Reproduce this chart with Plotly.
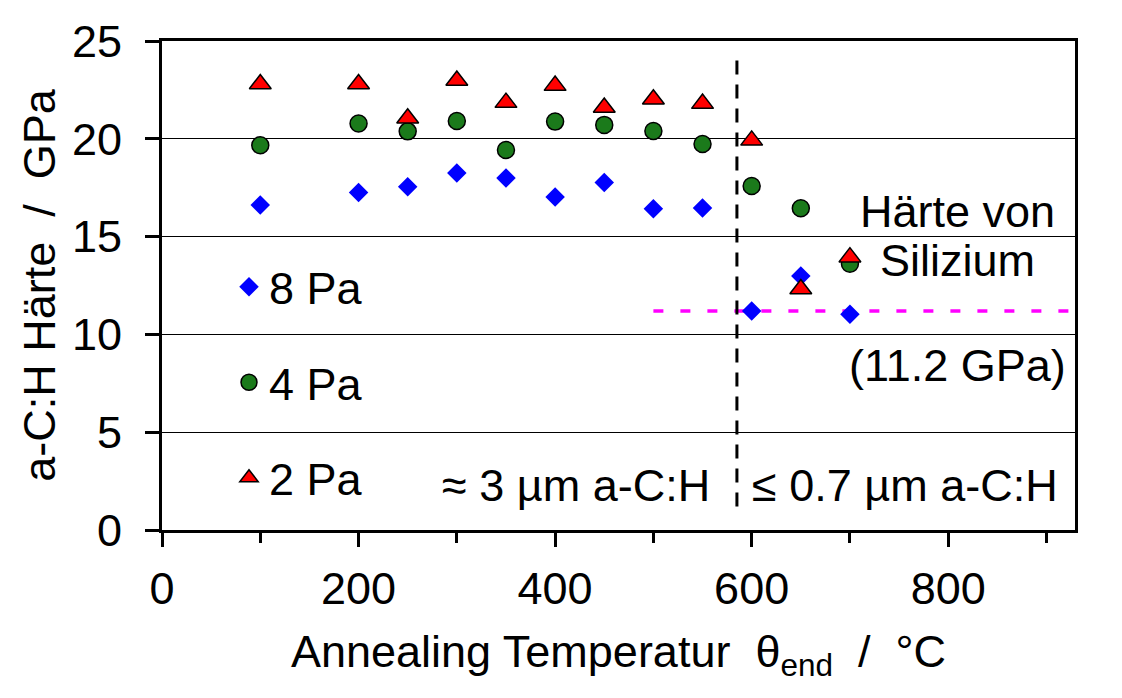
import plotly.graph_objects as go

# ---- data ----
temp_8pa = [100, 200, 250, 300, 350, 400, 450, 500, 550, 600, 650, 700]
hard_8pa = [16.62, 17.25, 17.55, 18.25, 18.0, 17.02, 17.77, 16.43, 16.46, 11.2, 12.99, 11.03]

temp_4pa = [100, 200, 250, 300, 350, 400, 450, 500, 550, 600, 650, 700]
hard_4pa = [19.67, 20.78, 20.38, 20.91, 19.43, 20.88, 20.71, 20.40, 19.73, 17.59, 16.45, 13.61]

temp_2pa = [100, 200, 250, 300, 350, 400, 450, 500, 550, 600, 650, 700]
hard_2pa = [22.8, 22.8, 21.05, 22.98, 21.85, 22.72, 21.6, 22.02, 21.8, 19.92, 12.32, 13.95]

SI_HARDNESS = 11.2          # GPa, hardness of silicon
SI_LINE_X = [500, 937]      # extent of the silicon reference line
THICKNESS_BOUNDARY = 585    # °C, boundary between thick / thin layers
BOUNDARY_Y = [1.2, 24.2]

X_MAX = 929
Y_MAX = 25
x_tick_vals = [0, 200, 400, 600, 800]
x_tick_text = ["0", "200", "400", "600", "800"]
y_tick_vals = [0, 5, 10, 15, 20, 25]
y_tick_text = ["0", "5", "10", "15", "20", "25"]

FONT = "Arial, Liberation Sans, sans-serif"
FS = 45

fig = go.Figure()

fig.add_trace(go.Scatter(
    x=temp_8pa, y=hard_8pa, mode="markers", name="8 Pa", legendgroup="g8",
    marker=dict(symbol="diamond", size=15, color="#0000FF", line=dict(width=0)),
))
fig.add_trace(go.Scatter(
    x=temp_4pa, y=hard_4pa, mode="markers", name="4 Pa", legendgroup="g4",
    marker=dict(symbol="circle", size=17, color="#1b7a1b", line=dict(width=1.5, color="black")),
))
fig.add_trace(go.Scatter(
    x=temp_2pa, y=hard_2pa, mode="markers", name="2 Pa", legendgroup="g2",
    marker=dict(symbol="triangle-up", size=19, color="#FF0000", line=dict(width=1.5, color="black")),
))

shapes = [
    # white legend background covering gridlines
    dict(type="rect", xref="paper", yref="paper",
         x0=(208 - 162) / 913, x1=(385 - 162) / 913,
         y0=(530 - 515) / 489, y1=(530 - 226) / 489,
         fillcolor="white", line=dict(width=0), layer="between"),
    # boundary line
    dict(type="line", xref="x", yref="y",
         x0=THICKNESS_BOUNDARY, x1=THICKNESS_BOUNDARY,
         y0=BOUNDARY_Y[0], y1=BOUNDARY_Y[1],
         line=dict(color="black", width=3, dash="14px,10px"), layer="above"),
    # silicon hardness reference
    dict(type="line", xref="paper", yref="y",
         x0=SI_LINE_X[0] / X_MAX, x1=SI_LINE_X[1] / X_MAX,
         y0=SI_HARDNESS, y1=SI_HARDNESS,
         line=dict(color="#FF00FF", width=3.5, dash="10px,17px"), layer="between"),
]

annotations = [
    dict(x=809, y=16.3, text="Härte von"),
    dict(x=809, y=13.8, text="Silizium"),
    dict(x=809, y=8.4, text=f"({SI_HARDNESS} GPa)"),
    dict(x=421, y=2.25, text="≈ 3 µm a-C:H"),
    dict(x=756, y=2.25, text="≤ 0.7 µm a-C:H"),
]
for a in annotations:
    a.update(xref="x", yref="y", showarrow=False, xanchor="center", yanchor="middle",
             font=dict(family=FONT, size=FS, color="black"))

fig.update_layout(
    width=1122, height=698, autosize=False,
    margin=dict(l=162, r=47, t=41, b=168, pad=0),
    paper_bgcolor="white", plot_bgcolor="white",
    font=dict(family=FONT, size=FS, color="black"),
    showlegend=True,
    legend=dict(
        x=(229 - 162) / 913, y=(530 - 251) / 489, xanchor="left", yanchor="top",
        bgcolor="rgba(0,0,0,0)", borderwidth=0,
        font=dict(family=FONT, size=FS, color="black"),
        traceorder="grouped", tracegroupgap=34,
    ),
    shapes=shapes,
    annotations=annotations,
    xaxis=dict(
        range=[0, X_MAX], tickmode="array", tickvals=x_tick_vals, ticktext=x_tick_text,
        ticks="outside", ticklen=14, tickwidth=2.5, tickcolor="black",
        minor=dict(dtick=100, tick0=0, ticks="outside", ticklen=10, tickwidth=2.5, tickcolor="black", showgrid=False),
        showline=True, linecolor="black", linewidth=3, mirror=True,
        showgrid=False, zeroline=False,
        ticklabelstandoff=3,
        tickfont=dict(family=FONT, size=FS),
        title=dict(text="Annealing Temperatur  θ<sub>end</sub>  /  °C",
                   font=dict(family=FONT, size=FS), standoff=23),
    ),
    yaxis=dict(
        range=[0, Y_MAX], tickmode="array", tickvals=y_tick_vals, ticktext=y_tick_text,
        ticks="outside", ticklen=14, tickwidth=2.5, tickcolor="black",
        showline=True, linecolor="black", linewidth=3, mirror=True,
        showgrid=True, gridcolor="black", gridwidth=1, zeroline=False,
        ticklabelstandoff=14,
        tickfont=dict(family=FONT, size=FS),
        title=dict(text="a-C:H Härte  /  GPa", font=dict(family=FONT, size=FS), standoff=3),
    ),
)

fig.write_html("out.html")
